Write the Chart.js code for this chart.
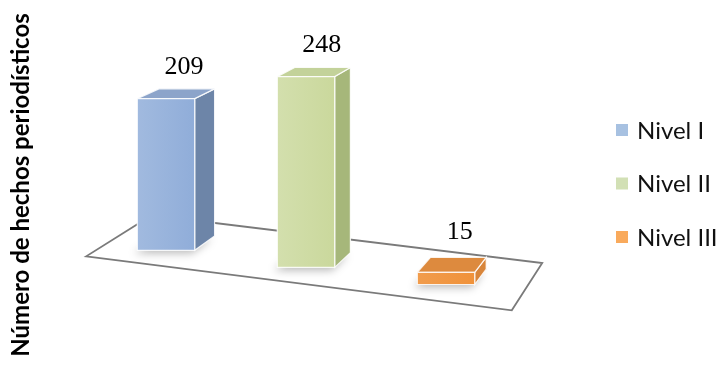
<!DOCTYPE html>
<html>
<head>
<meta charset="utf-8">
<script src="https://cdn.jsdelivr.net/npm/chart.js@4.4.1/dist/chart.umd.min.js"></script>
<style>
  html, body { margin: 0; padding: 0; background: #fff; }
  #grafico { display: block; }
</style>
</head>
<body>
<canvas id="grafico" width="716" height="367"></canvas>
<script>
const niveles = ['Nivel I', 'Nivel II', 'Nivel III'];
const hechos = [209, 248, 15];
const tituloEje = 'Número de hechos periodísticos';

// colores por nivel: cara frontal, lateral, tapa y cuadro de leyenda
const coloresFrente = ['#a1badf', '#d3dfad', '#f19c4c'];
const coloresLado = ['#6d85a8', '#a6b77a', '#d8853a'];
const coloresTapa = ['#8ca4ca', '#c3d29a', '#dd8a3e'];
const coloresLeyenda = ['#a7c1e1', '#d2e0b5', '#f9aa5c'];

// pseudo 3D: todo converge hacia un punto de fuga a la derecha
function haciaFuga(p, fuga, k) {
    return { x: p.x + k * (fuga.x - p.x), y: p.y + k * (fuga.y - p.y) };
}

function poligono(ctx, puntos, relleno, borde) {
    ctx.beginPath();
    ctx.moveTo(puntos[0].x, puntos[0].y);
    for (let i = 1; i < puntos.length; i++) ctx.lineTo(puntos[i].x, puntos[i].y);
    ctx.closePath();
    if (relleno) { ctx.fillStyle = relleno; ctx.fill(); }
    if (borde) { ctx.strokeStyle = borde.color; ctx.lineWidth = borde.ancho; ctx.stroke(); }
}

function referencias(chart) {
    const x = chart.scales.x, y = chart.scales.y;
    const x0 = x.getPixelForValue(0);
    const paso = x.getPixelForValue(1) - x0;
    const base = y.getPixelForValue(0);
    return { x0, paso, base, fuga: { x: x0 + 4.94 * paso, y: base - 477 } };
}

const barras3d = {
    id: 'barras3d',
    beforeDatasetsDraw(chart) {
        // piso del gráfico
        const ctx = chart.ctx;
        const r = referencias(chart);
        const izq = { x: r.x0 - 0.57 * r.paso, y: r.base + 6 };
        const der = { x: r.x0 + 2.47 * r.paso, y: r.base + 60 };
        const piso = [izq, der, haciaFuga(der, r.fuga, 0.088), haciaFuga(izq, r.fuga, 0.085)];
        ctx.save();
        poligono(ctx, piso, '#ffffff', { color: '#7a7a7a', ancho: 1.8 });
        ctx.restore();
    },
    afterDatasetsDraw(chart) {
        const ctx = chart.ctx;
        const r = referencias(chart);
        const meta = chart.getDatasetMeta(0);
        const k = 0.03;
        ctx.save();
        meta.data.forEach((barra, i) => {
            const p = barra.getProps(['x', 'y', 'base', 'width'], true);
            const desplazo = 0.122 * (p.x - r.x0);
            const factor = 1 + 0.0035 * desplazo;
            const abajo = p.base + desplazo;
            const arriba = abajo - (p.base - p.y) * factor;
            const l = p.x - p.width / 2, d = p.x + p.width / 2;
            const A = { x: l, y: arriba }, B = { x: d, y: arriba };
            const C = { x: d, y: abajo }, D = { x: l, y: abajo };
            const A2 = haciaFuga(A, r.fuga, k), B2 = haciaFuga(B, r.fuga, k);
            const C2 = haciaFuga(C, r.fuga, k), D2 = haciaFuga(D, r.fuga, k);

            // sombra difusa sobre el piso
            ctx.save();
            ctx.filter = 'blur(4px)';
            ctx.translate(-3, 3);
            poligono(ctx, [D, C, C2, D2], 'rgba(0,0,0,0.28)');
            ctx.restore();

            const filo = { color: 'rgba(255,255,255,0.85)', ancho: 1.2 };
            poligono(ctx, [B, B2, C2, C], coloresLado[i], filo);
            poligono(ctx, [A, A2, B2, B], coloresTapa[i], filo);

            // frente con un leve degradado
            const grad = ctx.createLinearGradient(l, 0, d, 0);
            grad.addColorStop(0, coloresFrente[i]);
            grad.addColorStop(1, Chart.helpers.color(coloresFrente[i]).darken(0.06).hexString());
            poligono(ctx, [A, B, C, D], grad, filo);

            // valor sobre la barra
            const cx = (A.x + B2.x) / 2, cy = (A.y + B2.y) / 2;
            const extra = p.base - p.y < 40 ? 6 : 0;
            ctx.fillStyle = '#000';
            ctx.font = '26px "Liberation Serif", "Times New Roman", serif';
            ctx.textAlign = 'center';
            ctx.textBaseline = 'middle';
            ctx.fillText(String(hechos[i]), cx + 8, cy - 27 - extra);
        });
        ctx.restore();
    },
    afterDraw(chart) {
        // leyenda a la derecha
        const ctx = chart.ctx;
        const centro = chart.height / 2;
        ctx.save();
        ctx.font = '24px Lato, sans-serif';
        ctx.textBaseline = 'middle';
        ctx.textAlign = 'left';
        niveles.forEach((nivel, i) => {
            const yy = centro + (i - 1) * 53.5;
            ctx.fillStyle = coloresLeyenda[i];
            ctx.fillRect(chart.width - 100, yy - 6, 12, 12);
            ctx.fillStyle = '#111';
            ctx.fillText(nivel, chart.width - 79, yy + 1);
        });
        ctx.restore();
    }
};

new Chart(document.getElementById('grafico'), {
    type: 'bar',
    data: {
        labels: niveles,
        datasets: [{
            data: hechos,
            backgroundColor: 'rgba(0,0,0,0)',
            borderWidth: 0,
            barPercentage: 0.41,
            categoryPercentage: 1
        }]
    },
    options: {
        responsive: false,
        animation: false,
        layout: { padding: { left: 3, right: 200, top: 18, bottom: 15 } },
        plugins: {
            legend: { display: false },
            tooltip: { enabled: false }
        },
        scales: {
            x: {
                display: false,
                offset: true
            },
            y: {
                min: -140,
                max: 320,
                grid: { display: false },
                border: { display: false },
                ticks: { display: false },
                title: {
                    display: true,
                    text: tituloEje,
                    color: '#000',
                    font: { family: 'Lato', size: 24, weight: 'bold' },
                    padding: { top: 4, bottom: 4 }
                },
                afterFit(escala) { escala.width = 93; }
            }
        }
    },
    plugins: [barras3d]
});
</script>
</body>
</html>
